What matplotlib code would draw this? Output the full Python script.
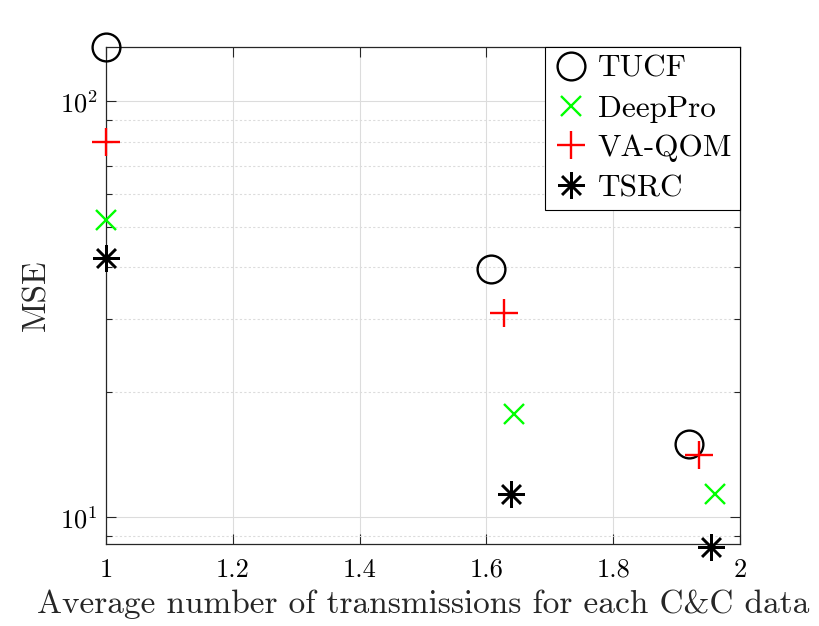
import matplotlib
matplotlib.use("Agg")
import matplotlib.pyplot as plt
from matplotlib.ticker import LogLocator, FixedLocator, NullFormatter

plt.rcParams['font.family'] = ['cmr10', 'DejaVu Serif']
plt.rcParams['mathtext.fontset'] = 'cm'
plt.rcParams['axes.formatter.use_mathtext'] = True

series = ["TUCF", "DeepPro", "VA-QOM", "TSRC"]
tucf_x = [1.0, 1.607, 1.919]
tucf_y = [135.0, 39.6, 15.0]
deeppro_x = [1.0, 1.643, 1.960]
deeppro_y = [51.7, 17.7, 11.4]
vaqom_x = [1.0, 1.628, 1.936]
vaqom_y = [80.0, 30.9, 14.1]
tsrc_x = [1.0, 1.639, 1.954]
tsrc_y = [42.0, 11.4, 8.5]
x_ticks = [1, 1.2, 1.4, 1.6, 1.8, 2]
x_ticklabels = ["1", "1.2", "1.4", "1.6", "1.8", "2"]

fig = plt.figure(figsize=(8.19, 6.26), dpi=100)
ax = fig.add_axes([106/819, 1-544/626, (740-106)/819, (544-47)/626])

ax.plot(tucf_x, tucf_y, 'o', mfc='none', mec='black', mew=1.7, ms=20, label=series[0], clip_on=False, zorder=5)
ax.plot(deeppro_x, deeppro_y, 'x', color='#00ff00', mew=1.7, ms=15, label=series[1], clip_on=False, zorder=5)
ax.plot(vaqom_x, vaqom_y, '+', color='#ff0000', mew=1.7, ms=19.5, label=series[2], clip_on=False, zorder=5)
ax.plot(tsrc_x, tsrc_y, marker=(8, 2, 0), ls='none', color='black', mew=1.8, ms=19, label=series[3], clip_on=False, zorder=5)

ax.set_yscale('log')
ax.set_xlim(1, 2)
ax.set_ylim(8.63, 135)
ax.xaxis.set_major_locator(FixedLocator(x_ticks))
ax.set_xticklabels(x_ticklabels)
ax.yaxis.set_major_locator(LogLocator(base=10))
ax.yaxis.set_minor_locator(LogLocator(base=10, subs=range(2, 10)))
ax.yaxis.set_minor_formatter(NullFormatter())

ax.grid(True, which='major', color='#dcdcdc', lw=0.8, ls='-')
ax.grid(True, which='minor', axis='y', color='#dcdcdc', lw=0.8, ls=(0, (2, 2)))
ax.set_axisbelow(True)

ax.tick_params(which='both', direction='in', top=True, right=True, labelsize=19, color='#262626', width=0.8)
ax.tick_params(which='major', length=7)
ax.tick_params(which='minor', length=4)
ax.tick_params(axis='x', pad=10)
ax.tick_params(axis='y', pad=6)
for s in ax.spines.values():
    s.set_color('#262626')
    s.set_linewidth(0.9)

ax.set_xlabel("Average number of transmissions for each C&C data", fontsize=24, color='#262626', labelpad=6)
ax.set_ylabel("MSE", fontsize=24, color='#262626', labelpad=6)

leg = ax.legend(loc='upper right', fontsize=22.5, frameon=True, fancybox=False, edgecolor='black',
                borderpad=0.25, labelspacing=0.38, handletextpad=0.25, handlelength=1.2,
                borderaxespad=0.0, framealpha=1)
leg.get_frame().set_linewidth(0.8)

fig.savefig("out.png", dpi=100)
